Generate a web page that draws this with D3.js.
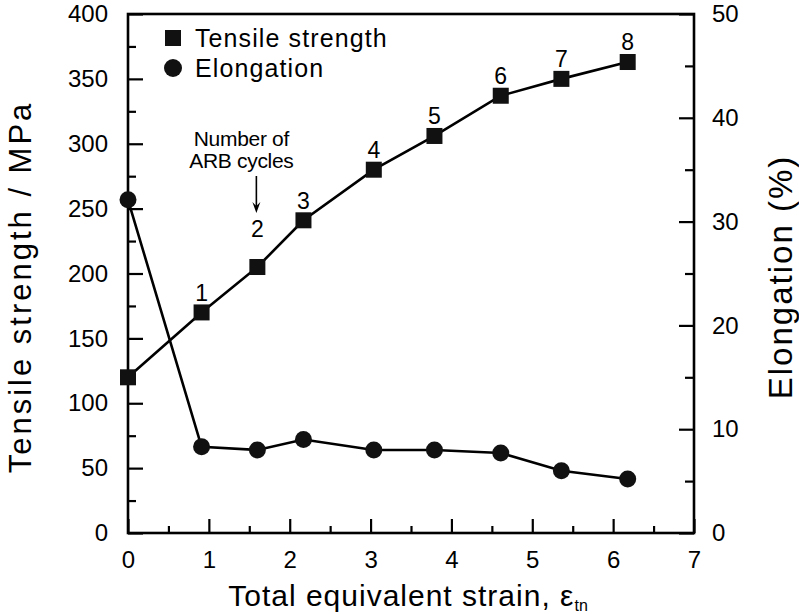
<!DOCTYPE html>
<html>
<head>
<meta charset="utf-8">
<script src="https://cdn.jsdelivr.net/npm/d3@7/dist/d3.min.js"></script>
<style>
  html, body { margin: 0; padding: 0; background: #fff; }
  svg { display: block; font-family: "Liberation Sans", Arial, Helvetica, sans-serif; }
</style>
</head>
<body>
<svg id="chart" width="799" height="614"></svg>
<script>
// Total equivalent strain after each ARB cycle (cycle 0 = starting material)
const strain = [0, 0.91, 1.6, 2.17, 3.04, 3.79, 4.61, 5.36, 6.18];
// Tensile strength, MPa
const tensile = [120, 170, 205, 241, 280, 306, 337, 350, 363];
// Elongation, %
const elongation = [32.1, 8.3, 8.0, 9.0, 8.0, 8.0, 7.7, 6.0, 5.2];
// Number of ARB cycles
const cycles = [0, 1, 2, 3, 4, 5, 6, 7, 8];

const xTicks = [0, 1, 2, 3, 4, 5, 6, 7];
const leftTicks = [0, 50, 100, 150, 200, 250, 300, 350, 400];
const rightTicks = [0, 10, 20, 30, 40, 50];

const legendLabels = ["Tensile strength", "Elongation"];
const xTitle = "Total equivalent strain, ";
const leftTitle = "Tensile strength / MPa";
const rightTitle = "Elongation (%)";
const noteLines = ["Number of", "ARB cycles"];

const svg = d3.select("#chart");
const plot = { left: 128, right: 694, top: 14, bottom: 533 };

const x = d3.scaleLinear().domain([0, 7]).range([plot.left, plot.right]);
const yL = d3.scaleLinear().domain([0, 400]).range([plot.bottom, plot.top]);
const yR = d3.scaleLinear().domain([0, 50]).range([plot.bottom, plot.top]);

const ink = "#000";
const axisW = 2.6;

// Frame
svg.append("rect")
  .attr("x", plot.left).attr("y", plot.top)
  .attr("width", plot.right - plot.left).attr("height", plot.bottom - plot.top)
  .attr("fill", "none").attr("stroke", ink).attr("stroke-width", axisW);

function styleAxis(g) {
  g.select(".domain").remove();
  g.selectAll("line").attr("stroke", ink).attr("stroke-width", 2.2);
  g.selectAll("text").attr("fill", ink).style("font-size", "24px");
}

// Minor ticks
const minorX = d3.range(0.5, 7, 1);
const minorL = d3.range(25, 400, 50);
const minorR = d3.range(5, 50, 10);

svg.append("g").attr("transform", `translate(0,${plot.bottom})`)
  .call(d3.axisTop(x).tickValues(minorX).tickSize(7).tickFormat(""))
  .call(styleAxis);
svg.append("g").attr("transform", `translate(${plot.left},0)`)
  .call(d3.axisRight(yL).tickValues(minorL).tickSize(8).tickFormat(""))
  .call(styleAxis);
svg.append("g").attr("transform", `translate(${plot.right},0)`)
  .call(d3.axisLeft(yR).tickValues(minorR).tickSize(9).tickFormat(""))
  .call(styleAxis);

// Major ticks (inward) with labels
svg.append("g").attr("transform", `translate(0,${plot.bottom})`)
  .call(d3.axisBottom(x).tickValues(xTicks).tickSizeInner(-14).tickSizeOuter(0).tickPadding(18).tickFormat(d3.format("d")))
  .call(styleAxis);

svg.append("g").attr("transform", `translate(${plot.left},0)`)
  .call(d3.axisLeft(yL).tickValues(leftTicks).tickSizeInner(-15).tickSizeOuter(0).tickPadding(20).tickFormat(d3.format("d")))
  .call(styleAxis);

svg.append("g").attr("transform", `translate(${plot.right},0)`)
  .call(d3.axisRight(yR).tickValues(rightTicks).tickSizeInner(-15).tickSizeOuter(0).tickPadding(18).tickFormat(d3.format("d")))
  .call(styleAxis);

// Axis titles
const xt = svg.append("text")
  .attr("x", 408).attr("y", 606)
  .attr("text-anchor", "middle")
  .style("font-size", "30px").style("letter-spacing", "1px").attr("fill", ink);
xt.append("tspan").text(xTitle);
xt.append("tspan").text("ε");
xt.append("tspan").text("tn").attr("dy", 5).style("font-size", "16px").style("letter-spacing", "0px");

svg.append("text")
  .attr("transform", "translate(31,287) rotate(-90)")
  .attr("text-anchor", "middle")
  .style("font-size", "31px").style("letter-spacing", "3px").attr("fill", ink)
  .text(leftTitle);

svg.append("text")
  .attr("transform", "translate(792,277) rotate(-90)")
  .attr("text-anchor", "middle")
  .style("font-size", "33px").style("letter-spacing", "2px").attr("fill", ink)
  .text(rightTitle);

// Series lines
const tensileData = strain.map((s, i) => ({ s, v: tensile[i], c: cycles[i] }));
const elongData = strain.map((s, i) => ({ s, v: elongation[i] }));

svg.append("path")
  .datum(tensileData)
  .attr("d", d3.line().x(d => x(d.s)).y(d => yL(d.v)))
  .attr("fill", "none").attr("stroke", ink).attr("stroke-width", 2.6);

svg.append("path")
  .datum(elongData)
  .attr("d", d3.line().x(d => x(d.s)).y(d => yR(d.v)))
  .attr("fill", "none").attr("stroke", ink).attr("stroke-width", 2.6);

// Markers
const sq = 16;
svg.append("g").selectAll("rect").data(tensileData).join("rect")
  .attr("x", d => x(d.s) - sq / 2).attr("y", d => yL(d.v) - sq / 2)
  .attr("width", sq).attr("height", sq).attr("fill", "#111");

svg.append("g").selectAll("circle").data(elongData).join("circle")
  .attr("cx", d => x(d.s)).attr("cy", d => yR(d.v)).attr("r", 8.5).attr("fill", "#111");

// Cycle numbers above the strength markers
const labelled = tensileData.filter(d => d.c > 0);
svg.append("g").selectAll("text").data(labelled).join("text")
  .attr("x", d => x(d.s))
  .attr("y", d => yL(d.v) - (d.c === 2 ? 38 : 20))
  .attr("dy", "0.36em")
  .attr("text-anchor", "middle")
  .style("font-size", "23px").attr("fill", ink)
  .text(d => d.c);

// "Number of ARB cycles" note with arrow pointing to cycle 2
const p2 = tensileData.find(d => d.c === 2);
const ax = x(p2.s) - 1;
const labelY = yL(p2.v) - 38;
const arrowEnd = labelY - 16;
const arrowStart = labelY - 53;
svg.append("line")
  .attr("x1", ax).attr("x2", ax).attr("y1", arrowStart).attr("y2", arrowEnd - 4)
  .attr("stroke", ink).attr("stroke-width", 1.6);
svg.append("path")
  .attr("d", `M${ax - 4},${arrowEnd - 11} L${ax},${arrowEnd} L${ax + 4},${arrowEnd - 11} L${ax},${arrowEnd - 7} Z`)
  .attr("fill", ink);
const note = svg.append("text")
  .attr("text-anchor", "middle")
  .style("font-size", "21px").style("letter-spacing", "-0.3px").attr("fill", ink);
noteLines.forEach((t, i) => {
  note.append("tspan").attr("x", ax - 15).attr("y", arrowStart - 30 + i * 22).text(t);
});

// Legend
const legend = svg.append("g");
legend.append("rect").attr("x", 165).attr("y", 30).attr("width", 16).attr("height", 16).attr("fill", "#111");
legend.append("circle").attr("cx", 173).attr("cy", 68).attr("r", 9).attr("fill", "#111");
legend.selectAll("text").data(legendLabels).join("text")
  .attr("x", 195).attr("y", (d, i) => 38 + i * 30)
  .attr("dy", "0.36em")
  .style("font-size", "25px").style("letter-spacing", "1.1px").attr("fill", ink)
  .text(d => d);
</script>
</body>
</html>
